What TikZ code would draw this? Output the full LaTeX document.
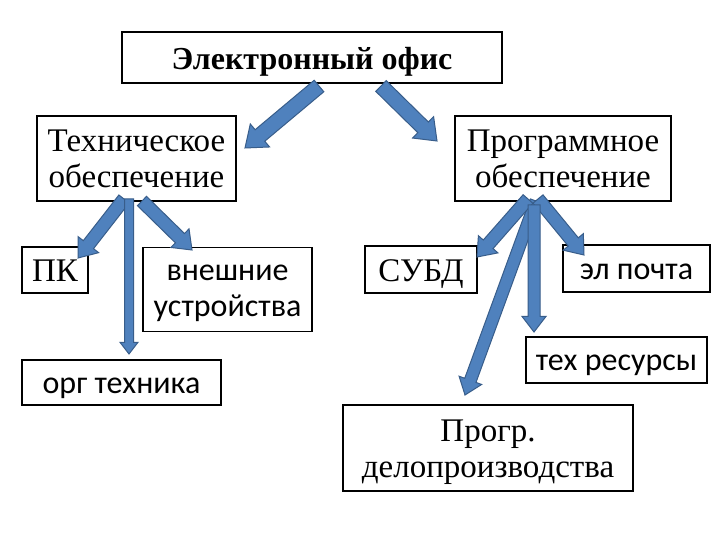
\documentclass[tikz,border=0pt]{standalone}
\usepackage{fontspec}
\setmainfont{Liberation Serif}
\newfontfamily\calibri{Carlito}
\usetikzlibrary{calc}
\definecolor{arrowblue}{HTML}{4F81BD}
\definecolor{arrowedge}{HTML}{385D8A}
% block arrow from #2 to #3, shaft width #1 (pt)
\newcommand{\blockarrow}[3][14]{%
  \pgfmathsetmacro{\sw}{#1/2}%
  \pgfmathsetmacro{\hw}{#1}%
  \pgfmathsetmacro{\hl}{#1*1.3}%
  \filldraw[barrow] ($(#2)!\sw pt!90:(#3)$)
    -- ($(#3)!\hl pt!(#2)!\sw pt!90:(#3)$)
    -- ($(#3)!\hl pt!(#2)!\hw pt!90:(#3)$)
    -- (#3)
    -- ($(#3)!\hl pt!(#2)!\hw pt!-90:(#3)$)
    -- ($(#3)!\hl pt!(#2)!\sw pt!-90:(#3)$)
    -- ($(#2)!\sw pt!-90:(#3)$) -- cycle;
}

\begin{document}
\begin{tikzpicture}[x=1pt, y=-1pt,
  box/.style 2 args={draw, line width=1.3pt, fill=white, inner sep=0pt,
                     minimum width=#1pt, minimum height=#2pt, align=center},
  serif/.style={font=\fontsize{33}{36}\selectfont,
                execute at begin node={\rule{0pt}{0.92em}},
                execute at end node={\rule[-0.22em]{0pt}{0pt}}},
  sans/.style={font=\calibri\fontsize{32}{36}\selectfont,
               execute at begin node={\rule{0pt}{0.9em}},
               execute at end node={\rule[-0.24em]{0pt}{0pt}}},
  lines/.style 2 args={text height=#1pt, text depth=#2pt},
  barrow/.style={fill=arrowblue, draw=arrowedge, line width=1pt, line join=miter},
]
  \fill[white] (0,0) rectangle (720,540);
  \useasboundingbox (0,0) rectangle (720,540);

  % boxes
  \node[box={380}{51}, lines={38}{13}, font=\bfseries\fontsize{32}{36}\selectfont] (office) at (312,57.5) {Электронный офис};
  \node[box={199}{85}, serif, lines={72}{13}] (tech) at (136.5,158.5) {Техническое\\обеспечение};
  \node[box={216}{85}, serif, lines={72}{13}] (soft) at (563,158.5) {Программное\\обеспечение};
  \node[box={66}{46}, serif] (pc) at (55,270) {ПК};
  \node[box={169}{84}, sans, lines={68.5}{15.5}] (ext) at (227.5,289.5) {внешние\\устройства};
  \node[box={199}{45}, sans] (orgtech) at (121.5,382.5) {орг техника};
  \node[box={112}{47}, serif] (dbms) at (421,269.5) {СУБД};
  \node[box={147}{47}, sans] (email) at (636.5,268.5) {эл почта};
  \node[box={181}{46}, sans] (techres) at (616.5,360) {тех ресурсы};
  \node[box={290}{86}, serif, lines={72}{14}] (docflow) at (488,448) {Прогр.\\делопроизводства};

  % arrow ends
  \coordinate (office-l) at (319,86);
  \coordinate (office-r) at (381,86);
  \coordinate (tech-in) at (245,148);
  \coordinate (soft-in) at (437,141);
  \coordinate (tech-a) at (124,199);
  \coordinate (tech-b) at (129,199);
  \coordinate (tech-c) at (142,201);
  \coordinate (pc-in) at (78,258);
  \coordinate (orgtech-in) at (129,354);
  \coordinate (ext-in) at (192,250);
  \coordinate (soft-a) at (528,199);
  \coordinate (soft-b) at (536,201);
  \coordinate (soft-c) at (534,205);
  \coordinate (soft-d) at (538,199);
  \coordinate (dbms-in) at (477,257);
  \coordinate (email-in) at (584,255);
  \coordinate (techres-in) at (534,332);
  \coordinate (docflow-in) at (465,395);

  % arrows
  \blockarrow[15]{office-l}{tech-in}
  \blockarrow[15]{office-r}{soft-in}
  \blockarrow[13]{tech-a}{pc-in}
  \blockarrow[13]{tech-c}{ext-in}
  \blockarrow[9]{tech-b}{orgtech-in}
  \blockarrow[12]{soft-b}{docflow-in}
  \blockarrow[13]{soft-a}{dbms-in}
  \blockarrow[13]{soft-d}{email-in}
  \blockarrow[12]{soft-c}{techres-in}
\end{tikzpicture}
\end{document}
